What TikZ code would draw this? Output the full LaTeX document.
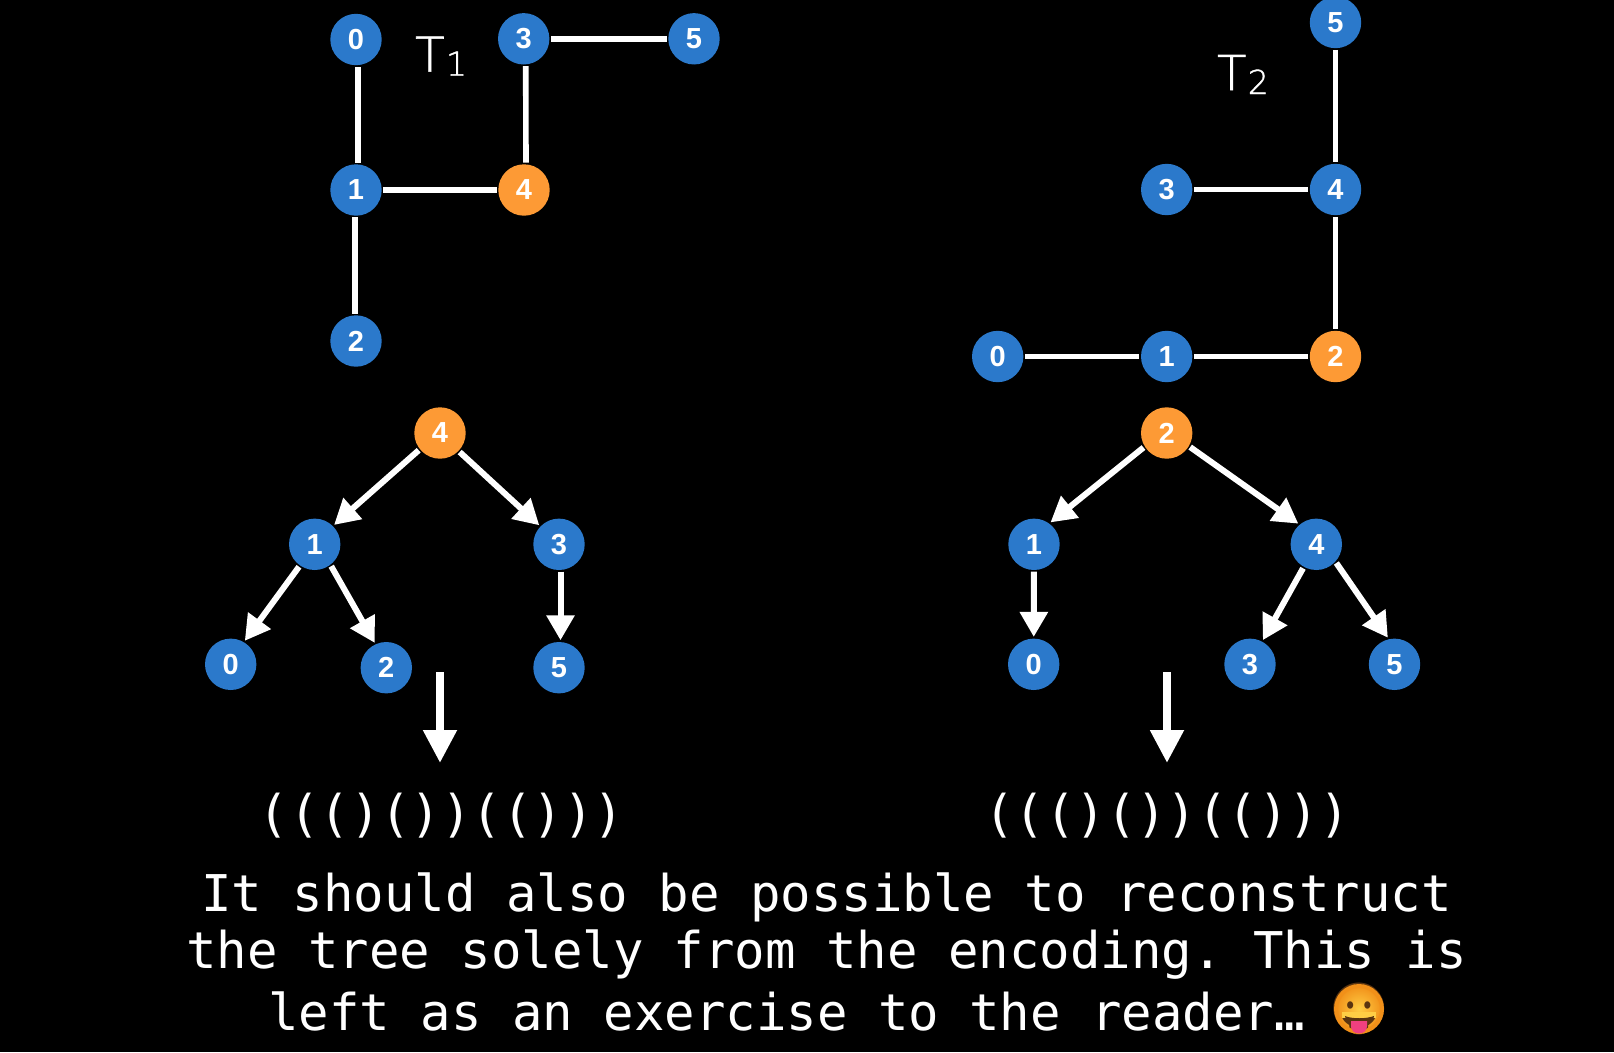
\documentclass[tikz,border=0pt]{standalone}
\usepackage{fontspec}
\usetikzlibrary{arrows.meta,shadings}
\setmainfont{Liberation Sans}
\newfontfamily\monofam{DejaVu Sans Mono}
\newfontfamily\lightfam[FakeBold=1.2]{DejaVu Sans ExtraLight}
\newfontfamily\emofam{Noto Emoji}
\definecolor{nodeblue}{HTML}{2B79CB}
\definecolor{nodeorange}{HTML}{FD9A35}
\definecolor{emoface}{HTML}{FFCE45}
\definecolor{emoedge}{HTML}{F19019}
\definecolor{emobrown}{HTML}{5A3410}
\definecolor{emopink}{HTML}{F0407F}
\tikzset{
  vbase/.style={circle,minimum size=51.4pt,inner sep=0pt,outer sep=1.7pt,text=white,
    font=\fontsize{29}{29}\selectfont\bfseries},
  vblue/.style={vbase,fill=nodeblue},
  vorange/.style={vbase,fill=nodeorange},
  edgeline/.style={draw=white,line width=5.6pt},
  treearrow/.style={draw=white,line width=6pt,-{Triangle[width=27pt,length=25pt]}},
  bigarrow/.style={draw=white,line width=8pt,-{Triangle[width=32pt,length=33pt]}},
  codetext/.style={text=white,inner sep=0pt,anchor=base,font=\monofam\fontsize{50.65}{50.65}\selectfont},
  codeleft/.style={codetext,anchor=base west},
  tlabel/.style={text=white,inner sep=0pt,anchor=base west,font=\lightfam\fontsize{48}{48}\selectfont},
}
\newcommand{\subdigit}[1]{\kern1.5pt\raisebox{-4pt}{\fontsize{33}{33}\selectfont #1}}
\begin{document}
\frenchspacing
\begin{tikzpicture}[x=1pt,y=-1pt]
\fill[black] (0,0) rectangle (1614,1052);
\useasboundingbox (0,0) rectangle (1614,1052);
% T1
\node[vblue] (a0) at (356,39.5) {0};
\node[vblue] (a3) at (523.7,38.8) {3};
\node[vblue] (a5) at (694,38.8) {5};
\node[vblue] (a1) at (356,190) {1};
\node[vorange] (a4) at (524,190) {4};
\node[vblue] (a2) at (356,341) {2};
\draw[edgeline] ([xshift=2pt]a0.south) -- ([xshift=2pt]a1.north);
\draw[edgeline] ([xshift=2pt]a3.south) -- ([xshift=2pt]a4.north);
\draw[edgeline] ([xshift=-1pt]a1.south) -- ([xshift=-1pt]a2.north);
\draw[edgeline] (a3) -- (a5);
\draw[edgeline] (a1) -- (a4);
\node[tlabel] (t1) at (415,71.7) {T\subdigit{1}};
% T2
\node[vblue] (b5) at (1335.5,22.5) {5};
\node[vblue] (b4) at (1335.5,189.5) {4};
\node[vblue] (b3) at (1166.7,189.5) {3};
\node[vorange] (b2) at (1335.5,356.5) {2};
\node[vblue] (b1) at (1166.7,356.5) {1};
\node[vblue] (b0) at (997.7,356.5) {0};
\draw[edgeline] (b5) -- (b4);
\draw[edgeline] (b4) -- (b2);
\draw[edgeline] (b3) -- (b4);
\draw[edgeline] (b0) -- (b1);
\draw[edgeline] (b1) -- (b2);
\node[tlabel] (t2) at (1216.8,90) {T\subdigit{2}};
% rooted tree 1
\node[vorange] (c4) at (440,433) {4};
\node[vblue] (c1) at (314.7,544.3) {1};
\node[vblue] (c3) at (559,544.3) {3};
\node[vblue] (c0) at (230.7,664.3) {0};
\node[vblue] (c2) at (386.3,667.7) {2};
\node[vblue] (c5) at (559,667.7) {5};
\draw[treearrow] (c4.219) -- (c1.45);
\draw[treearrow] (c4.-44) -- (c3.136.5);
\draw[treearrow] (c1.235) -- (c0.59);
\draw[treearrow] (c1.-53.5) -- (c2.115.5);
\draw[treearrow] ([xshift=1.5pt]c3.south) -- ([xshift=1.5pt]c5.north);
% rooted tree 2
\node[vorange] (d2) at (1166.7,433) {2};
\node[vblue] (d1) at (1034,544.3) {1};
\node[vblue] (d4) at (1316.3,544.3) {4};
\node[vblue] (d0) at (1033.7,664.3) {0};
\node[vblue] (d3) at (1250,664.3) {3};
\node[vblue] (d5) at (1394.5,664.3) {5};
\draw[treearrow] (d2.212) -- (d1.53);
\draw[treearrow] (d2.-31) -- (d4.131);
\draw[treearrow] (d1) -- (d0);
\draw[treearrow] (d4.241.6) -- (d3.62);
\draw[treearrow] (d4.-43) -- (d5.104);
% big arrows
\coordinate (ua) at (440,672);
\coordinate (ub) at (440,763);
\coordinate (va) at (1167,672);
\coordinate (vb) at (1167,763);
\draw[bigarrow] (ua) -- (ub);
\draw[bigarrow] (va) -- (vb);
% encodings
\node[codetext] (e1) at (441.5,831) {((()())(()))};
\node[codetext] (e2) at (1167,831) {((()())(()))};
% caption
\node[codetext] (l1) at (826.5,911) {It should also be possible to reconstruct};
\node[codetext] (l2) at (826.5,968.5) {the tree solely from the encoding. This is};
\node[codeleft] (l3) at (268,1030) {left as an exercise to the reader…};
% emoji
\shade[inner color=emoface,outer color=emoedge] (1359,1009) circle (23.5);
\node[text=emobrown,inner sep=0pt,font=\emofam\fontsize{50}{50}\selectfont] (emo) at (1359,1009) {😛};
\draw[emoedge,line width=4pt] (1359,1009) circle (23);
\fill[emoface] (1342,1012) rectangle (1376,1018);
\fill[emobrown] (1345,1016) .. controls (1352,1019) and (1366,1019) .. (1374,1016) .. controls (1372,1031) and (1347,1031) .. (1345,1016) -- cycle;
\fill[emopink] (1351,1021) -- (1351,1026) .. controls (1351,1036) and (1367,1036) .. (1367,1026) -- (1367,1021) -- cycle;
\end{tikzpicture}
\end{document}
